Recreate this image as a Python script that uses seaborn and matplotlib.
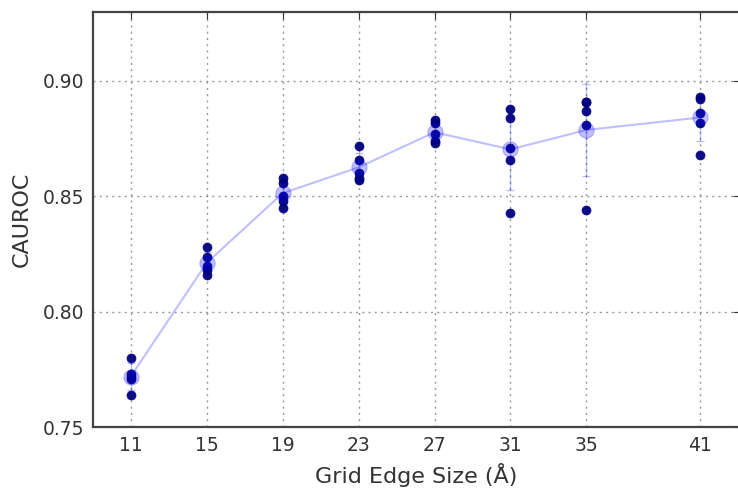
import numpy as np
import pandas as pd
import matplotlib
matplotlib.use('Agg')
import matplotlib.pyplot as plt
import seaborn as sns

# grid edge sizes and the five runs read for each
grid_sizes = [11, 15, 19, 23, 27, 31, 35, 41]
runs_11 = [0.780, 0.773, 0.772, 0.771, 0.764]
runs_15 = [0.828, 0.824, 0.820, 0.818, 0.816]
runs_19 = [0.858, 0.856, 0.850, 0.848, 0.845]
runs_23 = [0.872, 0.866, 0.860, 0.858, 0.857]
runs_27 = [0.883, 0.882, 0.877, 0.874, 0.873]
runs_31 = [0.888, 0.884, 0.871, 0.866, 0.843]
runs_35 = [0.891, 0.891, 0.887, 0.881, 0.844]
runs_41 = [0.893, 0.892, 0.886, 0.882, 0.868]
all_runs = [runs_11, runs_15, runs_19, runs_23, runs_27, runs_31, runs_35, runs_41]

rows = []
for size, runs in zip(grid_sizes, all_runs):
    for r in runs:
        rows.append({'size': size, 'cauroc': r})
df = pd.DataFrame(rows)

sns.set_style('white')
plt.rcParams['font.family'] = ['DejaVu Sans']

fig = plt.figure(figsize=(7.38, 4.88), dpi=100)
ax = fig.add_axes([0.1256, 0.1242, 0.8775, 0.8518])

# individual runs
sns.scatterplot(data=df, x='size', y='cauroc', color='#000080', s=42,
                edgecolor='#000080', linewidth=0.5, alpha=0.95, zorder=3, ax=ax)

# mean with std error bars
sns.lineplot(data=df, x='size', y='cauroc', errorbar='sd', err_style='bars',
             color='blue', alpha=0.25, linewidth=1.5, marker='o', markersize=11,
             markeredgecolor='blue', err_kws={'capsize': 3, 'elinewidth': 1},
             zorder=4, ax=ax)

ax.set_xlim(9, 43.1)
ax.set_ylim(0.75, 0.93)
ax.set_xticks(grid_sizes)
ax.set_yticks([0.75, 0.80, 0.85, 0.90])
ax.set_yticklabels(['0.75', '0.80', '0.85', '0.90'])
ax.grid(True, linestyle=(0, (1.5, 3)), color='#999999', linewidth=1)
ax.tick_params(direction='in', top=True, right=True, length=5, labelsize=13.5,
               colors='#333333', pad=6)
for sp in ax.spines.values():
    sp.set_color('#444444')
    sp.set_linewidth(1.6)
ax.spines['right'].set_visible(False)
ax.set_xlabel('Grid Edge Size (Å)', fontsize=16, color='#333333', labelpad=6)
ax.set_ylabel('CAUROC', fontsize=16, color='#333333', labelpad=8)

fig.savefig('out.png', dpi=100)
